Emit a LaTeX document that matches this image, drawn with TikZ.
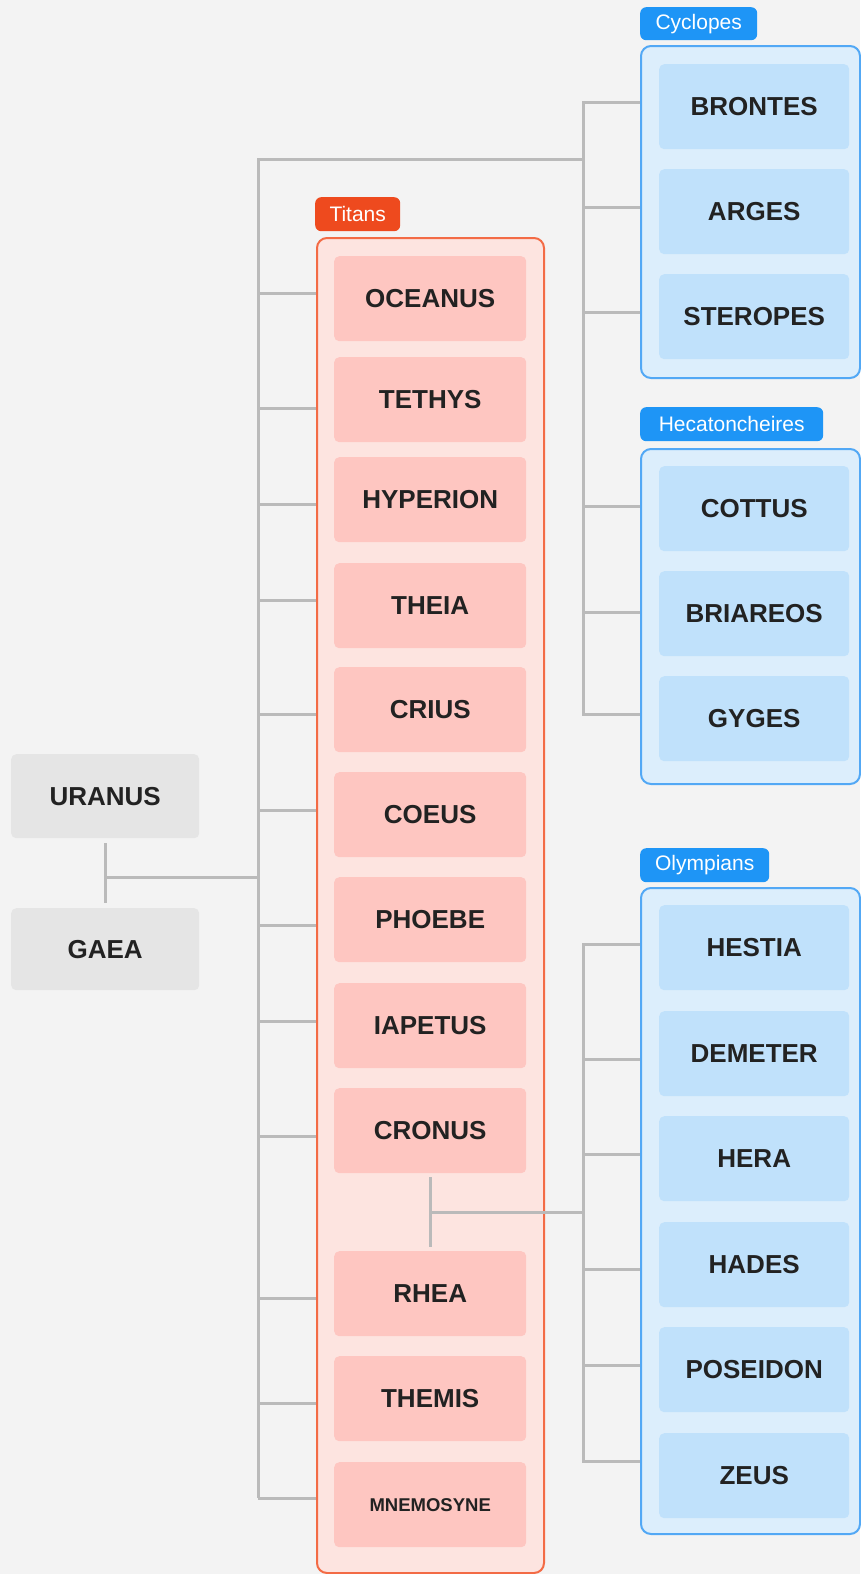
\documentclass[tikz,border=0pt]{standalone}
\usepackage{fontspec}
\setmainfont{Liberation Sans}
\definecolor{bg}{HTML}{F3F3F3}
\definecolor{linec}{HTML}{BABABA}
\definecolor{txt}{HTML}{222222}
\definecolor{greyc}{HTML}{E5E5E5}
\definecolor{tlab}{HTML}{EE4A1E}
\definecolor{tframeb}{HTML}{F36B45}
\definecolor{tframef}{HTML}{FDE4E0}
\definecolor{tboxc}{HTML}{FEC6C1}
\definecolor{blab}{HTML}{1E95F6}
\definecolor{bframeb}{HTML}{52A8F5}
\definecolor{bframef}{HTML}{DCEEFC}
\definecolor{bboxc}{HTML}{C0E1FB}
\newcommand{\nmfont}{\fontsize{26}{30}\selectfont\bfseries}
\newcommand{\smfont}{\fontsize{18.5}{22}\selectfont\bfseries}
\newcommand{\lbfont}{\fontsize{21}{25}\selectfont}
\begin{document}
\begin{tikzpicture}[x=1pt,y=-1pt,
  conn/.style={draw=linec, line width=3pt},
  namebox/.style={rounded corners=5pt, inner sep=0pt, anchor=north west, font=\nmfont, text=txt, minimum height=85pt},
  tbox/.style={namebox, fill=tboxc, minimum width=192pt},
  bbox/.style={namebox, fill=bboxc, minimum width=190pt},
  gbox/.style={namebox, fill=greyc, minimum width=188pt},
  tframe/.style={draw=tframeb, fill=tframef, line width=2pt, rounded corners=10pt, inner sep=0pt, anchor=north west},
  bframe/.style={draw=bframeb, fill=bframef, line width=2pt, rounded corners=10pt, inner sep=0pt, anchor=north west},
  lab/.style={rounded corners=6pt, inner sep=0pt, anchor=north west, text=white, font=\lbfont, minimum height=34pt},
]
\useasboundingbox (0,0) rectangle (860,1574);
\fill[bg] (0,0) rectangle (860,1574);

% frames
\node[tframe, minimum width=227pt, minimum height=1335pt] (titans) at (316,237) {};
\node[bframe, minimum width=219pt, minimum height=332pt] (cyc) at (640,45) {};
\node[bframe, minimum width=219pt, minimum height=335pt] (hec) at (640,448) {};
\node[bframe, minimum width=219pt, minimum height=646pt] (oly) at (640,887) {};

% labels
\node[lab, fill=tlab, minimum width=85pt] (tl) at (315,197) {Titans};
\node[lab, fill=blab, minimum width=117pt, minimum height=33pt] (cl) at (640,7) {Cyclopes};
\node[lab, fill=blab, minimum width=183pt] (hl) at (640,407) {Hecatoncheires};
\node[lab, fill=blab, minimum width=129pt] (ol) at (640,848) {Olympians};

% parents
\node[gbox, minimum height=84pt] (uranus) at (11,754) {URANUS};
\node[gbox, minimum height=82pt] (gaea) at (11,908) {GAEA};

% titans
\node[tbox] (oceanus) at (334,256) {OCEANUS};
\node[tbox] (tethys) at (334,357) {TETHYS};
\node[tbox] (hyperion) at (334,457) {HYPERION};
\node[tbox] (theia) at (334,563) {THEIA};
\node[tbox] (crius) at (334,667) {CRIUS};
\node[tbox] (coeus) at (334,772) {COEUS};
\node[tbox] (phoebe) at (334,877) {PHOEBE};
\node[tbox] (iapetus) at (334,983) {IAPETUS};
\node[tbox] (cronus) at (334,1088) {CRONUS};
\node[tbox] (rhea) at (334,1251) {RHEA};
\node[tbox] (themis) at (334,1356) {THEMIS};
\node[tbox, font=\smfont] (mnemosyne) at (334,1462) {MNEMOSYNE};

% cyclopes
\node[bbox] (brontes) at (659,64) {BRONTES};
\node[bbox] (arges) at (659,169) {ARGES};
\node[bbox] (steropes) at (659,274) {STEROPES};
% hecatoncheires
\node[bbox] (cottus) at (659,466) {COTTUS};
\node[bbox] (briareos) at (659,571) {BRIAREOS};
\node[bbox] (gyges) at (659,676) {GYGES};
% olympians
\node[bbox] (hestia) at (659,905) {HESTIA};
\node[bbox] (demeter) at (659,1011) {DEMETER};
\node[bbox] (hera) at (659,1116) {HERA};
\node[bbox] (hades) at (659,1222) {HADES};
\node[bbox] (poseidon) at (659,1327) {POSEIDON};
\node[bbox] (zeus) at (659,1433) {ZEUS};

% trunk coordinates
\coordinate (ltop) at (258,159);
\coordinate (lbot) at (258,1498);
\coordinate (rtop) at (583,159);
\coordinate (ug) at (105,877);
\coordinate (cr) at (429,1212);

% Uranus + Gaea
\draw[conn] ([yshift=-5pt]uranus.south) -- ([yshift=5pt]gaea.north);
\draw[conn] (ug) -- (ltop |- ug);

% left trunk
\draw[conn] (lbot) -- (ltop) -- (rtop);
\foreach \y in {293,408,504,600,714,810,925,1021,1136,1298,1403,1498}
  \draw[conn] (ltop |- 0,\y) -- (titans.west |- 0,\y);

% right upper trunk
\draw[conn] (cyc.west |- 0,102) -- (rtop |- 0,102) -- (rtop |- 0,714) -- (hec.west |- 0,714);
\foreach \y in {207,312}
  \draw[conn] (rtop |- 0,\y) -- (cyc.west |- 0,\y);
\foreach \y in {506,612}
  \draw[conn] (rtop |- 0,\y) -- (hec.west |- 0,\y);

% Cronus + Rhea
\draw[conn] ([yshift=-4pt]cronus.south) -- ([yshift=4pt]rhea.north);
\draw[conn] (cr) -- (rtop |- cr);

% right lower trunk
\draw[conn] (oly.west |- 0,944) -- (rtop |- 0,944) -- (rtop |- 0,1461) -- (oly.west |- 0,1461);
\foreach \y in {1059,1154,1269,1365}
  \draw[conn] (rtop |- 0,\y) -- (oly.west |- 0,\y);
\end{tikzpicture}
\end{document}
